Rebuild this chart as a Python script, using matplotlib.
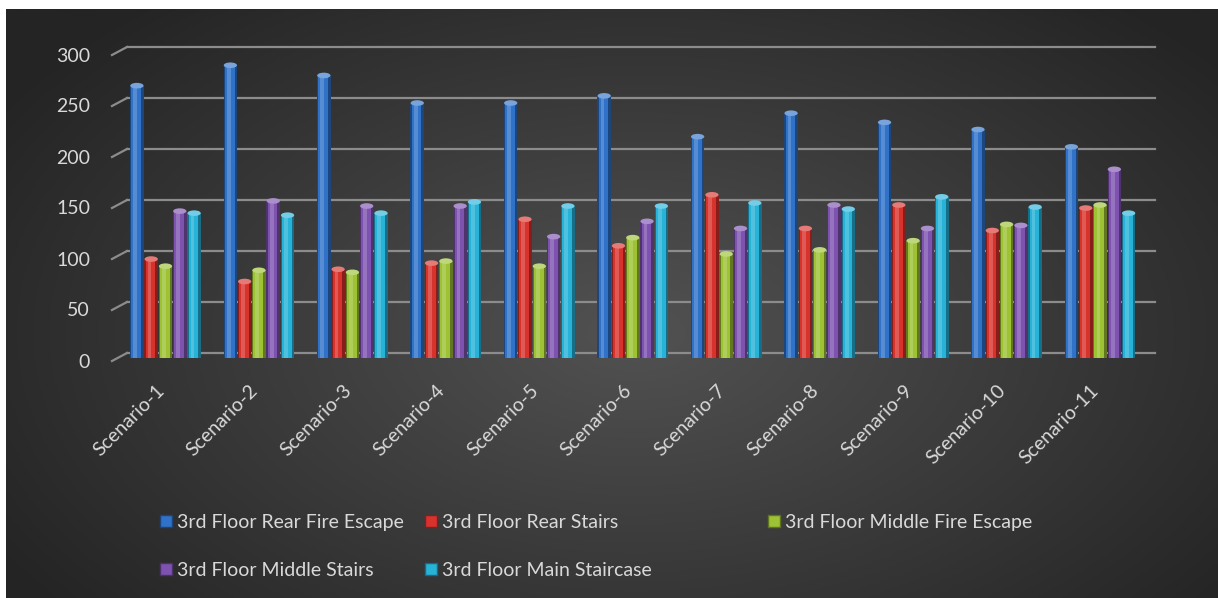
import numpy as np
import matplotlib
matplotlib.use("Agg")
import matplotlib.pyplot as plt
from matplotlib.patches import Patch, Ellipse
from matplotlib.lines import Line2D
from matplotlib.transforms import ScaledTranslation, blended_transform_factory
import matplotlib.colors as mcolors

# ---------------- data ----------------
categories = ["Scenario-1", "Scenario-2", "Scenario-3", "Scenario-4", "Scenario-5",
              "Scenario-6", "Scenario-7", "Scenario-8", "Scenario-9", "Scenario-10",
              "Scenario-11"]
series_names = ["3rd Floor Rear Fire Escape", "3rd Floor Rear Stairs",
                "3rd Floor Middle Fire Escape", "3rd Floor Middle Stairs",
                "3rd Floor Main Staircase"]
rear_fire_escape = [267, 287, 277, 250, 250, 257, 217, 240, 231, 224, 207]
rear_stairs = [97, 75, 87, 93, 136, 110, 160, 127, 150, 125, 147]
middle_fire_escape = [90, 86, 84, 95, 90, 118, 102, 106, 115, 131, 150]
middle_stairs = [144, 154, 149, 149, 119, 134, 127, 150, 127, 130, 185]
main_staircase = [142, 140, 142, 153, 149, 149, 152, 146, 158, 148, 142]
y_ticks = [0, 50, 100, 150, 200, 250, 300]

series = [rear_fire_escape, rear_stairs, middle_fire_escape, middle_stairs, main_staircase]
colors = ["#2f72c8", "#d8322d", "#9dc234", "#7e53b0", "#27b2d8"]

plt.rcParams['font.family'] = ['Lato', 'DejaVu Sans']
TXT = "#d9d9d9"
FS = 14

W, H = 1218, 598
fig = plt.figure(figsize=(W / 100, H / 100), dpi=100)
fig.patch.set_facecolor("white")

# background with radial gradient
bg = fig.add_axes([6 / W, 0, 1 - 6 / W, 1 - 9 / H])
bg.set_axis_off()
gx, gy = np.meshgrid(np.linspace(0, 1, 400), np.linspace(0, 1, 200))
r = np.sqrt(((gx - 0.52) / 0.62) ** 2 + ((gy - 0.45) / 0.75) ** 2)
r = np.clip(r, 0, 1)
c0 = np.array(mcolors.to_rgb("#525252"))
c1 = np.array(mcolors.to_rgb("#242424"))
img = c0[None, None, :] * (1 - r[..., None]) + c1[None, None, :] * r[..., None]
bg.imshow(img, aspect='auto', extent=[0, 1, 0, 1], origin='lower')
bg.set_xlim(0, 1)
bg.set_ylim(0, 1)

# main axes
x0px, x1px = 127, 1155
y0px, y300px = 358, 52
ax = fig.add_axes([x0px / W, (H - y0px) / H, (x1px - x0px) / W, (y0px - y300px) / H])
ax.patch.set_alpha(0)
ax.set_xlim(-0.5, len(categories) - 0.5)
ax.set_ylim(0, 300)
for s in ax.spines.values():
    s.set_visible(False)
ax.tick_params(length=0)


def px(dx, dy):
    return ScaledTranslation(dx / 100, dy / 100, fig.dpi_scale_trans)


# gridlines on the back wall (shifted up) and slanted connectors with labels
GRID = "#8c8c8c"
back = ax.transData + px(0, 5)
for v in y_ticks:
    ax.plot([-0.5, len(categories) - 0.5], [v, v], color=GRID, lw=1.6,
            transform=back, clip_on=False, zorder=1)
btrans = blended_transform_factory(ax.transAxes, ax.transData)
for v in y_ticks:
    xa, ya = btrans.transform((0, v))
    fig.add_artist(Line2D([xa - 15, xa], [ya - 3, ya + 5], transform=None,
                          color=GRID, lw=1.6, zorder=2))
    ax.text(0, v, str(v), transform=btrans + px(-37, -4), ha='right', va='center',
            color=TXT, fontsize=FS)
ax.set_yticks([])

# bars (cylinder-like shading)
x = np.arange(len(categories))
pitch, width = 0.153, 0.145
center_shift = -0.088
for i, (vals, col) in enumerate(zip(series, colors)):
    xs = x + center_shift + (i - 2) * pitch
    base = np.array(mcolors.to_rgb(col))
    dark = base * 0.62
    light = np.clip(base + (1 - base) * 0.35, 0, 1)
    ax.bar(xs, vals, width=width, color=dark, zorder=3)
    ax.bar(xs - width * 0.05, vals, width=width * 0.72, color=base, zorder=4)
    ax.bar(xs - width * 0.12, vals, width=width * 0.28, color=light, alpha=0.55, zorder=5)
    for xi, v in zip(xs, vals):
        ax.add_patch(Ellipse((xi, v), width * 0.98, 5.5, facecolor=light,
                             edgecolor='none', zorder=6))

# x tick labels
ax.set_xticks(x)
ax.set_xticklabels(categories, rotation=45, ha='right', va='center',
                   rotation_mode='anchor', color=TXT, fontsize=FS)
ax.tick_params(axis='x', pad=0)
for lab in ax.get_xticklabels():
    lab.set_transform(lab.get_transform() + px(-12, -30))

# legend: three columns laid out like the original
handles = [Patch(facecolor=c, edgecolor=np.array(mcolors.to_rgb(c)) * 0.6) for c in colors]
columns = [[0, 3], [1, 4], [2]]
col_x = [160, 425, 768]
for cx, idx in zip(col_x, columns):
    fig.legend([handles[k] for k in idx], [series_names[k] for k in idx],
               loc='upper left', bbox_to_anchor=(cx / W, 1 - 514 / H),
               frameon=False, fontsize=FS, labelcolor=TXT,
               handlelength=0.6, handleheight=0.6, handletextpad=0.25,
               labelspacing=1.6, borderpad=0, borderaxespad=0)

fig.savefig("out.png", dpi=100, facecolor=fig.get_facecolor())
